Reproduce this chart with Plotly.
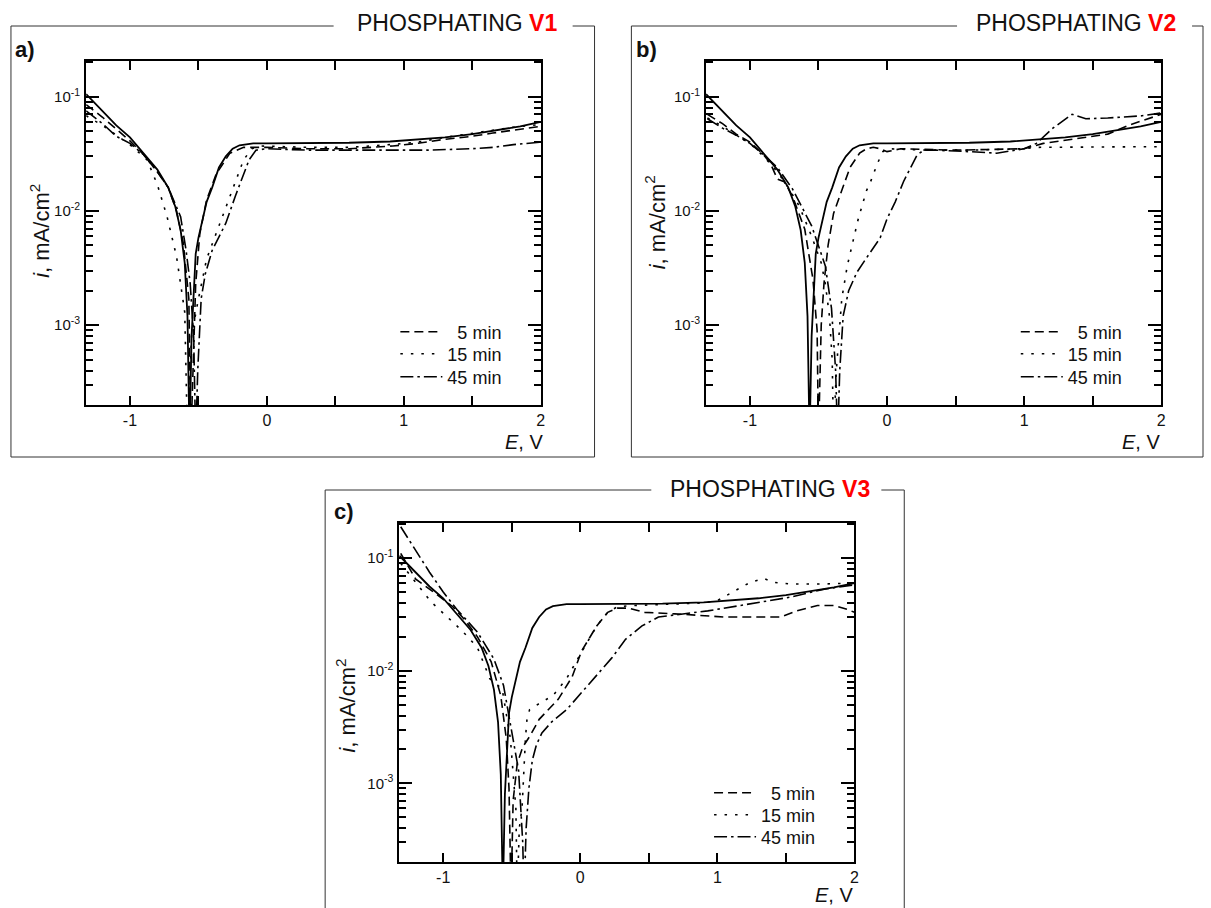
import plotly.graph_objects as go

W, H = 1211, 908

# ---------------- data (E in V, i in mA/cm2) ----------------
# bare reference (solid line, identical in all panels)
E_ref = [-1.32, -1.2, -1.1, -1.0, -0.9, -0.8, -0.72, -0.67, -0.63, -0.60, -0.58, -0.565,
         -0.55, -0.535, -0.52, -0.50, -0.47, -0.44, -0.40, -0.35, -0.30, -0.25, -0.20,
         -0.15, -0.10, 0.0, 0.3, 0.6, 0.9, 1.1, 1.3, 1.5, 1.7, 1.85, 2.0]
I_ref = [0.105, 0.075, 0.056, 0.044, 0.032, 0.023, 0.016, 0.011, 0.0068, 0.0035, 0.0012, 0.0001,
         0.0008, 0.0018, 0.0042, 0.0058, 0.0085, 0.012, 0.016, 0.024, 0.030, 0.035, 0.0375,
         0.0385, 0.039, 0.039, 0.039, 0.0395, 0.0405, 0.042, 0.044, 0.047, 0.051, 0.055, 0.060]

# panel a) V1
E_a5 = [-1.32, -1.2, -1.1, -1.0, -0.9, -0.8, -0.72, -0.66, -0.61, -0.57, -0.555, -0.535, -0.52,
        -0.49, -0.44, -0.37, -0.27, -0.17, -0.1, 0.0, 0.3, 0.6, 0.92, 1.1, 1.28, 1.5, 1.65, 1.8, 2.0]
I_a5 = [0.085, 0.066, 0.052, 0.041, 0.031, 0.022, 0.016, 0.010, 0.0052, 0.0017, 0.0001, 0.0006, 0.0023,
        0.0063, 0.0125, 0.021, 0.032, 0.036, 0.036, 0.036, 0.035, 0.035, 0.037, 0.039, 0.042, 0.045, 0.048, 0.051, 0.055]
E_a15 = [-1.32, -1.2, -1.12, -1.0, -0.875, -0.80, -0.73, -0.66, -0.60, -0.58, -0.55, -0.50, -0.44,
         -0.35, -0.26, -0.17, -0.11, -0.05, 0.3, 0.6, 0.9, 1.1, 1.3, 1.5, 1.64, 1.8, 2.0]
I_a15 = [0.068, 0.056, 0.048, 0.038, 0.028, 0.017, 0.009, 0.004, 0.0013, 0.0001, 0.0008, 0.0017, 0.0038,
         0.0075, 0.0145, 0.028, 0.035, 0.037, 0.036, 0.036, 0.038, 0.040, 0.044, 0.048, 0.051, 0.054, 0.057]
E_a45 = [-1.32, -1.2, -1.1, -1.0, -0.9, -0.8, -0.72, -0.66, -0.63, -0.59, -0.56, -0.535, -0.52,
         -0.505, -0.48, -0.45, -0.40, -0.30, -0.23, -0.13, -0.08, 0.0, 0.3, 0.68, 1.16, 1.5, 1.65, 1.8, 2.0]
I_a45 = [0.075, 0.058, 0.045, 0.039, 0.031, 0.022, 0.016, 0.011, 0.0089, 0.0045, 0.0023, 0.0008, 0.0001,
         0.0004, 0.0017, 0.0028, 0.0045, 0.0078, 0.0135, 0.028, 0.034, 0.035, 0.034, 0.034, 0.034, 0.035, 0.036, 0.038, 0.040]

# panel b) V2
E_b5 = [-1.31, -1.2, -1.1, -1.0, -0.9, -0.85, -0.8, -0.75, -0.69, -0.6, -0.54, -0.51, -0.50, -0.48,
        -0.46, -0.43, -0.39, -0.33, -0.27, -0.2, -0.15, -0.1, -0.05, 0.0, 0.05, 0.1, 0.5, 1.0, 1.14, 1.38, 1.61, 1.76, 2.0]
I_b5 = [0.07, 0.058, 0.047, 0.040, 0.031, 0.026, 0.019, 0.018, 0.0135, 0.0069, 0.0025, 0.0009, 0.0001, 0.001,
        0.0023, 0.005, 0.0095, 0.015, 0.024, 0.032, 0.035, 0.036, 0.035, 0.033, 0.034, 0.035, 0.034, 0.035, 0.039, 0.043, 0.047, 0.056, 0.070]
E_b15 = [-1.31, -1.2, -1.1, -1.0, -0.9, -0.8, -0.72, -0.64, -0.55, -0.48, -0.45, -0.42, -0.40, -0.39,
         -0.37, -0.355, -0.33, -0.29, -0.26, -0.21, -0.15, -0.12, -0.07, -0.03, 0.0, 0.3, 0.6, 1.0, 1.1, 1.5, 2.0]
I_b15 = [0.065, 0.055, 0.046, 0.039, 0.030, 0.022, 0.016, 0.011, 0.006, 0.0035, 0.0023, 0.0012, 0.0005, 0.0001,
         0.0004, 0.0007, 0.0017, 0.0033, 0.0047, 0.0085, 0.015, 0.018, 0.026, 0.033, 0.035, 0.034, 0.034, 0.035, 0.036, 0.036, 0.0365]
E_b45 = [-1.31, -1.2, -1.1, -1.0, -0.9, -0.8, -0.69, -0.55, -0.45, -0.405, -0.375, -0.36, -0.345, -0.32,
         -0.28, -0.22, -0.13, -0.05, 0.0, 0.06, 0.12, 0.17, 0.22, 0.27, 0.35, 0.6, 0.8, 1.0, 1.09, 1.21,
         1.3, 1.35, 1.45, 1.61, 1.86, 2.0]
I_b45 = [0.064, 0.053, 0.046, 0.039, 0.031, 0.024, 0.0156, 0.0074, 0.0033, 0.0014, 0.0004, 0.0001, 0.0004, 0.0012,
         0.002, 0.0029, 0.0042, 0.0058, 0.0085, 0.012, 0.018, 0.024, 0.031, 0.034, 0.034, 0.033, 0.032, 0.035, 0.039, 0.053,
         0.064, 0.070, 0.064, 0.065, 0.068, 0.072]

# panel c) V3
E_c5 = [-1.31, -1.2, -1.05, -0.93, -0.85, -0.75, -0.65, -0.58, -0.54, -0.52, -0.505, -0.49, -0.46, -0.42,
        -0.37, -0.30, -0.16, -0.06, 0.01, 0.06, 0.12, 0.2, 0.27, 0.35, 0.47, 0.69, 0.88, 1.05, 1.29, 1.46,
        1.58, 1.73, 1.85, 1.95, 2.0]
I_c5 = [0.11, 0.065, 0.048, 0.037, 0.029, 0.020, 0.012, 0.006, 0.0025, 0.0009, 0.0001, 0.0007, 0.0015, 0.0021,
        0.0026, 0.0037, 0.0056, 0.0088, 0.015, 0.019, 0.025, 0.033, 0.036, 0.036, 0.033, 0.032, 0.031, 0.030, 0.030, 0.030,
        0.034, 0.038, 0.038, 0.035, 0.033]
E_c15 = [-1.31, -1.2, -1.09, -0.9, -0.82, -0.75, -0.66, -0.57, -0.51, -0.47, -0.46, -0.445, -0.425, -0.40,
         -0.39, -0.37, -0.29, -0.2, -0.1, 0.0, 0.06, 0.12, 0.2, 0.27, 0.4, 0.7, 0.9, 1.0, 1.15, 1.24, 1.34,
         1.41, 1.53, 1.78, 2.0]
I_c15 = [0.09, 0.06, 0.041, 0.025, 0.020, 0.016, 0.0085, 0.0069, 0.0025, 0.0006, 0.0001, 0.0004, 0.0006, 0.0025,
         0.0036, 0.0045, 0.0052, 0.006, 0.0085, 0.014, 0.019, 0.025, 0.033, 0.037, 0.038, 0.039, 0.040, 0.042, 0.053, 0.061, 0.066,
         0.061, 0.059, 0.059, 0.060]
E_c45 = [-1.31, -1.2, -1.1, -1.0, -0.9, -0.75, -0.63, -0.56, -0.5, -0.45, -0.42, -0.41, -0.395, -0.375,
         -0.35, -0.32, -0.28, -0.21, -0.1, -0.01, 0.1, 0.23, 0.33, 0.45, 0.57, 0.76, 0.93, 1.17, 1.53, 1.78, 2.0]
I_c45 = [0.19, 0.115, 0.075, 0.05, 0.035, 0.022, 0.0127, 0.0074, 0.0028, 0.0013, 0.0003, 0.0001, 0.0004, 0.0009,
         0.0016, 0.0022, 0.0028, 0.0035, 0.0045, 0.006, 0.0085, 0.013, 0.019, 0.025, 0.030, 0.032, 0.034, 0.038, 0.045, 0.053, 0.058]

labels = ["\u20075 min", "15 min", "45 min"]
x_ticks = [-1, 0, 1, 2]
x_ticktext = ["-1", "0", "1", "2"]
x_minor = [-0.5, 0.5, 1.5]
y_ticks = [1e-3, 1e-2, 1e-1]
y_ticktext = ["10<sup>-3</sup>", "10<sup>-2</sup>", "10<sup>-1</sup>"]
x_range = [-1.32, 2.0]
y_range = [-3.699, -0.688]

series = {
    "a": [(E_a5, I_a5), (E_a15, I_a15), (E_a45, I_a45)],
    "b": [(E_b5, I_b5), (E_b15, I_b15), (E_b45, I_b45)],
    "c": [(E_c5, I_c5), (E_c15, I_c15), (E_c45, I_c45)],
}

# ---------------- layout geometry (pixels) ----------------
FONT = "Liberation Sans, Arial, sans-serif"
panels = [
    dict(key="a", ax="", plot=(86.5, 543, 61, 405), box=(11, 597, 26, 457),
         seg=[(11, 335), (575, 597)], title_x=356, title_y=23, variant="V1",
         lab=(13, 50), ylab=(40, 231), xlab=(547, 442), legx=397, legrows=(332, 354, 377)),
    dict(key="b", ax="2", plot=(709, 1166, 61, 405), box=(634, 1208, 26, 457),
         seg=[(634, 961), (1197, 1208)], title_x=978, title_y=23, variant="V2",
         lab=(637, 50), ylab=(658, 222), xlab=(1167, 442), legx=1020, legrows=(332, 354, 377)),
    dict(key="c", ax="3", plot=(401, 858, 523, 862), box=(326.5, 908, 490, 909),
         seg=[(326.5, 654), (885, 908)], title_x=671, title_y=489, variant="V3",
         lab=(333, 511), ylab=(347, 706), xlab=(859, 895), legx=712, legrows=(793, 815, 837)),
]

def fx(p):
    return p / W

def fy(p):
    return 1 - p / H

dashes = ["9px,5px", "2.5px,8px", "13px,4px,2.5px,4px"]

minor_y = [k * 10 ** d for d in (-4, -3, -2, -1) for k in range(2, 10) if 2e-4 <= k * 10 ** d <= 0.205]

fig = go.Figure()
shapes, annotations = [], []
layout = {}
leg_n = 0

for p in panels:
    xa, ya = "x" + p["ax"], "y" + p["ax"]
    fig.add_trace(go.Scatter(x=E_ref, y=I_ref, mode="lines", xaxis=xa, yaxis=ya,
                             line=dict(color="black", width=1.8), showlegend=False))
    for (E, I), lab, d, row in zip(series[p["key"]], labels, dashes, p["legrows"]):
        leg_n += 1
        leg_id = "legend" if leg_n == 1 else "legend%d" % leg_n
        fig.add_trace(go.Scatter(x=E, y=I, mode="lines", xaxis=xa, yaxis=ya, name=lab,
                                 line=dict(color="black", width=1.6, dash=d),
                                 legend=leg_id, showlegend=True))
        layout[leg_id] = dict(x=fx(p["legx"]), y=fy(row), xanchor="left", yanchor="middle",
                              xref="paper", yref="paper", bgcolor="rgba(0,0,0,0)", borderwidth=0,
                              itemwidth=42, font=dict(family=FONT, size=18, color="#111"))
    l, r, t, b = p["plot"]
    layout["xaxis" + p["ax"]] = dict(
        domain=[fx(l), fx(r)], anchor=ya, range=x_range, tickvals=x_ticks, ticktext=x_ticktext,
        ticks="inside", ticklen=9, tickwidth=1.5, tickcolor="black", mirror="ticks", showline=True,
        linewidth=2, linecolor="black", showgrid=False, zeroline=False,
        minor=dict(tickvals=x_minor, ticks="inside", ticklen=9, tickwidth=1.5, tickcolor="black", showgrid=False),
        tickfont=dict(family=FONT, size=16, color="#111"))
    layout["yaxis" + p["ax"]] = dict(
        domain=[fy(b), fy(t)], anchor=xa, type="log", range=y_range, tickvals=y_ticks, ticktext=y_ticktext,
        ticks="inside", ticklen=13, tickwidth=1.5, tickcolor="black", mirror="ticks", showline=True,
        linewidth=2, linecolor="black", showgrid=False, zeroline=False, ticklabelstandoff=1,
        minor=dict(tickvals=minor_y, ticks="inside", ticklen=7, tickwidth=1.5, tickcolor="black", showgrid=False),
        tickfont=dict(family=FONT, size=15, color="#111"))
    # frame around panel
    L, R, T, B = p["box"]
    for x0, x1 in p["seg"]:
        shapes.append(dict(type="line", xref="paper", yref="paper", x0=fx(x0), x1=fx(x1), y0=fy(T), y1=fy(T),
                           line=dict(color="#333", width=1)))
    shapes.append(dict(type="line", xref="paper", yref="paper", x0=fx(L), x1=fx(L), y0=fy(T), y1=fy(B),
                       line=dict(color="#333", width=1)))
    shapes.append(dict(type="line", xref="paper", yref="paper", x0=fx(R), x1=fx(R), y0=fy(T), y1=fy(B),
                       line=dict(color="#333", width=1)))
    if B < H:
        shapes.append(dict(type="line", xref="paper", yref="paper", x0=fx(L), x1=fx(R), y0=fy(B), y1=fy(B),
                           line=dict(color="#333", width=1)))
    annotations.append(dict(xref="paper", yref="paper", x=fx(p["title_x"]), y=fy(p["title_y"]),
                            xanchor="left", yanchor="middle", showarrow=False,
                            text="PHOSPHATING <b><span style='color:#ff0000'>" + p["variant"] + "</span></b>",
                            font=dict(family=FONT, size=23, color="#111")))
    annotations.append(dict(xref="paper", yref="paper", x=fx(p["lab"][0]), y=fy(p["lab"][1]),
                            xanchor="left", yanchor="middle", showarrow=False,
                            text="<b>" + p["key"] + ")</b>", font=dict(family=FONT, size=22, color="#111")))
    annotations.append(dict(xref="paper", yref="paper", x=fx(p["ylab"][0]), y=fy(p["ylab"][1]),
                            xanchor="center", yanchor="middle", showarrow=False, textangle=-90,
                            text="<i>i</i>, mA/cm<sup>2</sup>", font=dict(family=FONT, size=22, color="#111")))
    annotations.append(dict(xref="paper", yref="paper", x=fx(p["xlab"][0]), y=fy(p["xlab"][1]),
                            xanchor="right", yanchor="middle", showarrow=False,
                            text="<i>E</i>, V", font=dict(family=FONT, size=20, color="#111")))

fig.update_layout(width=W, height=H, margin=dict(l=0, r=0, t=0, b=0), paper_bgcolor="white",
                  plot_bgcolor="white", shapes=shapes, annotations=annotations, showlegend=True,
                  font=dict(family=FONT), **layout)

fig.write_html("out.html", config={"displayModeBar": False},
               post_script="document.body.style.margin='0px';document.body.style.padding='0px';")
